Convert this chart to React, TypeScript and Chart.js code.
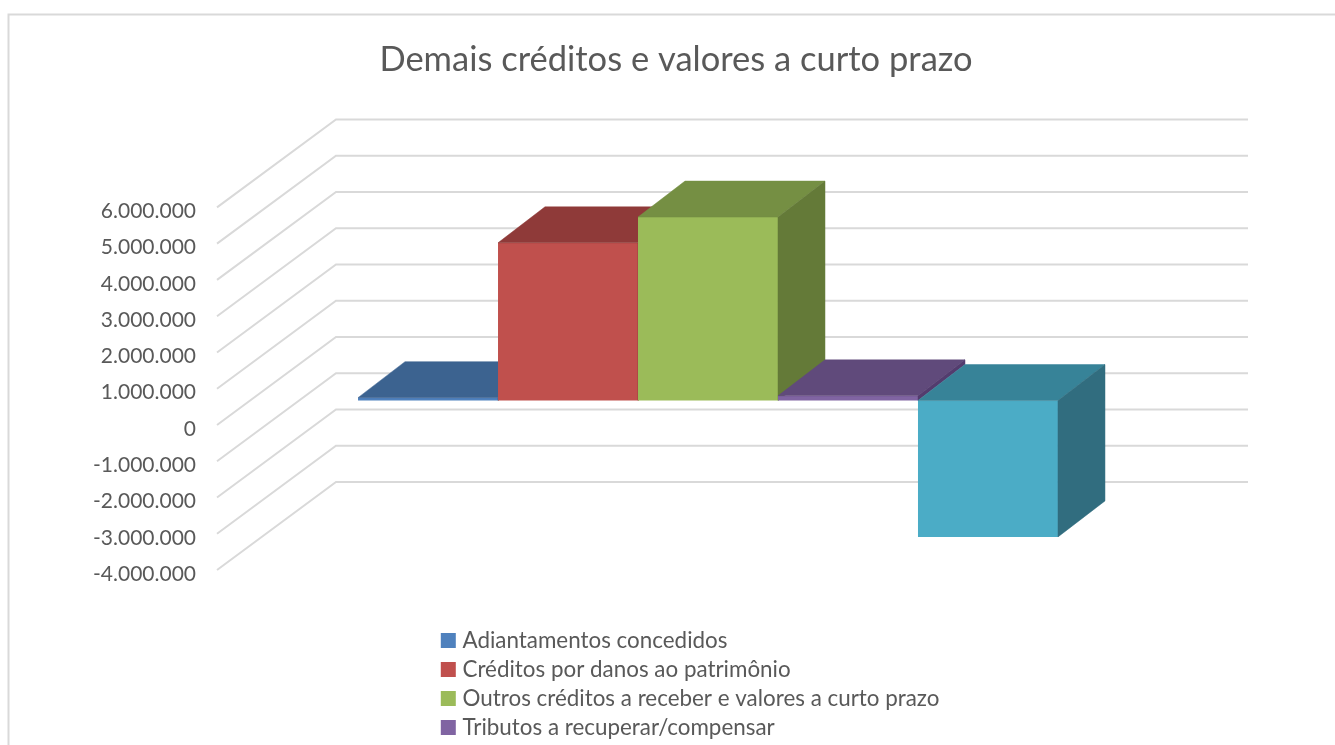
import React, { useEffect, useRef } from "react";
import { Chart, registerables } from "chart.js";

Chart.register(...registerables);

const chartTitle = "Demais créditos e valores a curto prazo";
const categories = [""];
const seriesNames = [
  "Adiantamentos concedidos",
  "Créditos por danos ao patrimônio",
  "Outros créditos a receber e valores a curto prazo",
  "Tributos a recuperar/compensar",
  "",
];
const adiantamentos = [80000];
const creditosDanos = [4350000];
const outrosCreditos = [5060000];
const tributos = [130000];
const quintaSerie = [-3760000];
const seriesValues = [adiantamentos, creditosDanos, outrosCreditos, tributos, quintaSerie];
const frontColors = ["#4f81bd", "#c0504d", "#9bbb59", "#8064a2", "#4bacc6"];
const topColors = ["#3c6390", "#8f3a39", "#758f43", "#604a7b", "#378398"];
const sideColors = ["#345576", "#7a3130", "#647a38", "#533c6e", "#316d7f"];

const GRID = "#d9d9d9";
const TEXT = "#595959";
const FONT = "Lato, Carlito, 'Open Sans', sans-serif";
const wall = { dx: 119, dy: -88, right: 1248 };
const plane = { dx: 35, dy: -24.4 };
const depth = { dx: 47, dy: -36 };

function poly(ctx: CanvasRenderingContext2D, pts: number[][], color: string) {
  ctx.beginPath();
  pts.forEach((p, i) => (i ? ctx.lineTo(p[0], p[1]) : ctx.moveTo(p[0], p[1])));
  ctx.closePath();
  ctx.fillStyle = color;
  ctx.fill();
  ctx.strokeStyle = color;
  ctx.lineWidth = 0.5;
  ctx.stroke();
}

const threeD = {
  id: "threeD",
  beforeDraw(chart: any) {
    const c = chart.ctx;
    c.save();
    c.strokeStyle = GRID;
    c.lineWidth = 2;
    c.beginPath();
    c.moveTo(8.5, 745);
    c.lineTo(8.5, 14.5);
    c.lineTo(1335, 14.5);
    c.stroke();
    c.restore();
  },
  afterLayout(chart: any) {
    const l = chart.legend;
    l.left = 438.7;
    l.right = 1100;
    l.top = 622.7;
    l.bottom = 900;
    const t = chart.titleBlock;
    t.left = 0;
    t.right = 1352;
    t.width = 1352;
  },
  beforeDatasetsDraw(chart: any) {
    const c = chart.ctx;
    const y = chart.scales.y;
    const left = chart.chartArea.left;
    c.save();
    c.strokeStyle = GRID;
    c.lineWidth = 2;
    y.ticks.forEach((t: any) => {
      const py = y.getPixelForValue(t.value);
      c.beginPath();
      c.moveTo(left, py);
      c.lineTo(left + wall.dx, py + wall.dy);
      c.lineTo(wall.right, py + wall.dy);
      c.stroke();
    });
    c.restore();
    c.save();
    c.translate(plane.dx, plane.dy);
    seriesValues.forEach((_, i) => {
      const meta = chart.getDatasetMeta(i);
      const { x, y: vy, base, width } = meta.data[0].getProps(["x", "y", "base", "width"], true);
      const l = x - width / 2;
      const r = x + width / 2;
      const top = Math.min(vy, base);
      const bottom = Math.max(vy, base);
      meta.controller.draw();
      poly(c, [[l, top], [l + depth.dx, top + depth.dy], [r + depth.dx, top + depth.dy], [r, top]], topColors[i]);
      poly(c, [[r, top], [r + depth.dx, top + depth.dy], [r + depth.dx, bottom + depth.dy], [r, bottom]], sideColors[i]);
    });
    c.restore();
    return false;
  },
};

export default function App() {
  const ref = useRef<HTMLCanvasElement>(null);
  useEffect(() => {
    const chart = new Chart(ref.current as HTMLCanvasElement, {
      type: "bar",
      data: {
        labels: categories,
        datasets: seriesValues.map((values, i) => ({
          label: seriesNames[i],
          data: values,
          backgroundColor: frontColors[i],
          borderWidth: 0,
        })),
      },
      plugins: [threeD],
      options: {
        responsive: false,
        animation: false,
        events: [],
        layout: { padding: { top: 0, left: 0, right: 206, bottom: 175 } },
        datasets: { bar: { barPercentage: 1, categoryPercentage: 0.7675 } },
        scales: {
          x: { display: false },
          y: {
            min: -4000000,
            max: 6000000,
            border: { display: false },
            grid: { display: false, drawTicks: false },
            afterFit: (s: any) => {
              s.width = 217;
            },
            ticks: {
              stepSize: 1000000,
              padding: 21,
              labelOffset: 4,
              color: TEXT,
              font: { family: FONT, size: 21 },
              callback: (v: any) =>
                (Number(v) < 0 ? "-" : "") +
                String(Math.abs(Number(v))).replace(/\B(?=(\d{3})+$)/g, "."),
            },
          },
        },
        plugins: {
          tooltip: { enabled: false },
          title: {
            display: true,
            text: chartTitle,
            color: TEXT,
            font: { family: FONT, size: 34.5, weight: "normal" },
            padding: { top: 39, bottom: 127 },
            fullSize: true,
          },
          legend: {
            display: true,
            position: "chartArea" as any,
            align: "start",
            labels: {
              padding: 6.6,
              boxWidth: 6,
              boxHeight: 6,
              color: TEXT,
              font: { family: FONT, size: 22.4 },
              generateLabels: () =>
                seriesNames
                  .map((name, i) => ({
                    text: name,
                    fillStyle: frontColors[i],
                    strokeStyle: frontColors[i],
                    lineWidth: 9,
                    fontColor: TEXT,
                    datasetIndex: i,
                  }))
                  .filter((item) => item.text !== ""),
            },
          },
        },
      },
    });
    return () => chart.destroy();
  }, []);
  return (
    <canvas
      ref={ref}
      width={1335}
      height={745}
      style={{ position: "fixed", left: 0, top: 0, background: "#fff", display: "block" }}
    />
  );
}
